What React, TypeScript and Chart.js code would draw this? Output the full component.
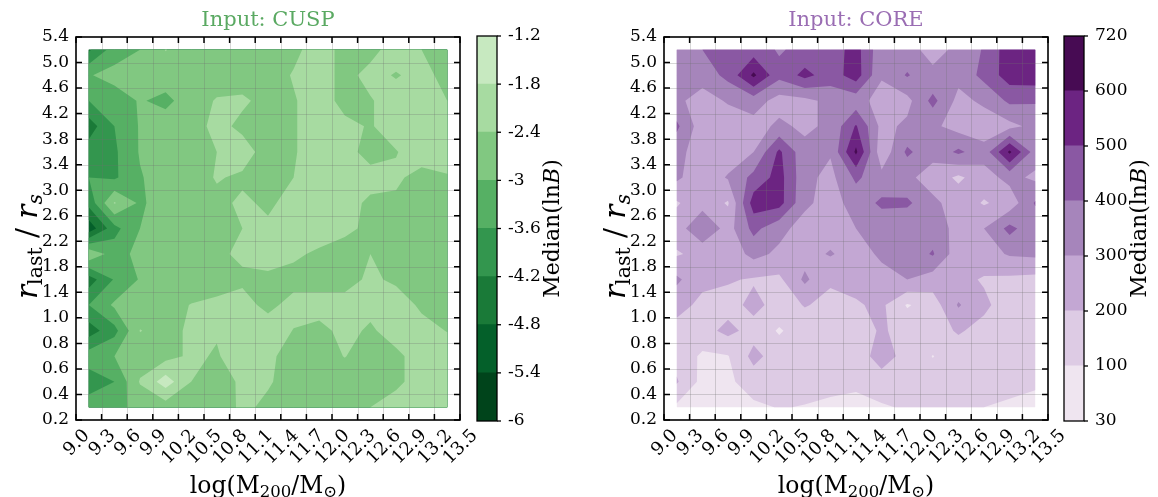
import React, { useEffect, useRef } from "react";
import { Chart, registerables } from "chart.js";
Chart.register(...registerables);

const FONT = "'DejaVu Serif', 'Liberation Serif', serif";

const xTickLabels = ["9.0","9.3","9.6","9.9","10.2","10.5","10.8","11.1","11.4","11.7","12.0","12.3","12.6","12.9","13.2","13.5"];
const yTickLabels = ["0.2","0.4","0.6","0.8","1.0","1.4","1.8","2.2","2.6","3.0","3.4","3.8","4.2","4.6","5.0","5.4"];

const cuspLevels = [-6, -5.4, -4.8, -4.2, -3.6, -3, -2.4, -1.8, -1.2];
const cuspLevelLabels = ["-6", "-5.4", "-4.8", "-4.2", "-3.6", "-3", "-2.4", "-1.8", "-1.2"];
const cuspColors = ["#00441b", "#04602a", "#1a7a38", "#33964e", "#56b064", "#81c881", "#a7dba1", "#c7e9c0"];

const coreLevels = [30, 100, 200, 300, 400, 500, 600, 720];
const coreLevelLabels = ["30", "100", "200", "300", "400", "500", "600", "720"];
const coreColors = ["#efe5f0", "#ddcbe4", "#c3a7d3", "#a685bb", "#8a58a3", "#6c2482", "#470b53"];

// rows listed from top (r_last/r_s high) to bottom, columns from low to high mass
const cuspRows: number[][] = [
  [-4.3, -3.3, -3.0, -2.38, -2.7, -2.7, -2.7, -2.7, -2.55, -2.1, -2.6, -2.6, -2.1, -2.4, -2.7],
  [-3.04, -2.8, -2.7, -2.7, -2.7, -2.7, -2.7, -2.7, -2.35, -2.1, -2.6, -2.2, -2.45, -2.2, -2.6],
  [-3.6, -3.3, -2.95, -3.15, -2.7, -2.35, -2.3, -2.6, -2.45, -2.1, -2.6, -2.45, -2.1, -2.1, -2.4],
  [-4.5, -3.6, -2.95, -2.7, -2.7, -2.2, -2.55, -2.7, -2.45, -2.1, -2.25, -2.45, -2.1, -2.1, -2.1],
  [-3.9, -3.7, -2.95, -2.7, -2.7, -2.4, -2.1, -2.7, -2.45, -2.1, -2.2, -2.6, -2.43, -2.1, -2.1],
  [-3.6, -3.7, -3.05, -2.7, -2.7, -2.35, -2.5, -2.7, -2.4, -2.1, -2.1, -2.2, -2.3, -2.6, -2.45],
  [-4.0, -2.35, -3.1, -2.7, -2.65, -2.55, -2.3, -2.5, -2.2, -2.1, -2.2, -2.5, -2.5, -2.6, -2.6],
  [-5.2, -3.8, -3.0, -2.7, -2.7, -2.6, -2.4, -2.3, -2.2, -2.1, -2.3, -2.5, -2.6, -2.6, -2.5],
  [-2.5, -3.3, -2.8, -2.7, -2.7, -2.5, -2.3, -2.2, -2.3, -2.5, -2.6, -2.4, -2.6, -2.7, -2.5],
  [-4.5, -3.55, -2.95, -2.7, -2.7, -2.6, -2.5, -2.5, -2.6, -2.7, -2.6, -2.3, -2.5, -2.7, -2.5],
  [-3.6, -2.9, -2.75, -2.6, -2.38, -2.3, -2.2, -2.55, -2.2, -2.1, -2.2, -2.2, -2.1, -2.5, -2.5],
  [-4.5, -3.8, -2.38, -2.6, -2.3, -2.35, -2.2, -2.1, -2.42, -2.6, -2.2, -2.5, -2.1, -2.2, -2.42],
  [-3.3, -3.0, -2.7, -2.6, -2.3, -2.45, -2.1, -2.3, -2.6, -2.65, -2.38, -2.7, -2.55, -2.1, -2.1],
  [-3.9, -3.6, -2.35, -1.5, -2.4, -2.8, -2.25, -2.35, -2.6, -2.6, -2.7, -2.6, -2.5, -2.2, -2.1],
  [-3.3, -3.2, -2.8, -2.7, -2.6, -2.7, -2.3, -2.5, -2.6, -2.7, -2.7, -2.4, -2.2, -2.1, -2.1],
];

const coreRows: number[][] = [
  [350, 400, 450, 450, 390, 430, 450, 540, 330, 330, 270, 320, 410, 560, 560],
  [350, 340, 430, 620, 430, 530, 450, 550, 310, 410, 320, 330, 430, 550, 560],
  [320, 260, 310, 350, 260, 270, 330, 340, 260, 270, 430, 270, 320, 420, 410],
  [420, 240, 240, 260, 320, 280, 320, 510, 270, 320, 320, 260, 240, 270, 330],
  [330, 250, 240, 300, 520, 330, 310, 620, 230, 420, 330, 420, 340, 620, 350],
  [320, 230, 310, 430, 540, 330, 270, 420, 330, 320, 260, 180, 260, 330, 280],
  [190, 260, 190, 550, 540, 320, 260, 340, 420, 420, 320, 260, 190, 240, 410],
  [250, 390, 260, 430, 330, 260, 250, 300, 330, 310, 350, 270, 300, 430, 330],
  [190, 230, 240, 330, 280, 260, 310, 250, 320, 340, 410, 240, 260, 310, 320],
  [320, 220, 210, 190, 180, 320, 210, 230, 260, 300, 250, 230, 190, 180, 170],
  [230, 180, 160, 230, 160, 205, 180, 190, 220, 90, 150, 310, 220, 150, 160],
  [170, 160, 230, 160, 90, 150, 160, 160, 210, 170, 160, 210, 170, 160, 150],
  [160, 85, 95, 230, 150, 150, 150, 140, 250, 160, 97, 150, 150, 140, 150],
  [210, 70, 80, 150, 150, 140, 130, 120, 150, 140, 140, 130, 130, 130, 110],
  [80, 60, 60, 80, 105, 95, 80, 70, 90, 110, 130, 120, 100, 85, 80],
];

type Pt = { x: number; y: number; v: number };

function lerpPt(a: Pt, b: Pt, level: number): Pt {
  const t = (level - a.v) / (b.v - a.v);
  return { x: a.x + t * (b.x - a.x), y: a.y + t * (b.y - a.y), v: level };
}

function clipAbove(poly: Pt[], level: number): Pt[] {
  const out: Pt[] = [];
  for (let k = 0; k < poly.length; k++) {
    const a = poly[k];
    const b = poly[(k + 1) % poly.length];
    const ain = a.v >= level;
    const bin = b.v >= level;
    if (ain) out.push(a);
    if (ain !== bin) out.push(lerpPt(a, b, level));
  }
  return out;
}

// region of one grid cell where value >= level, saddles resolved by the cell mean
function cellPolys(q: Pt[], level: number): Pt[][] {
  const above = q.map((p) => p.v >= level);
  const n = above.filter(Boolean).length;
  if (n === 0) return [];
  if (n === 4) return [q];
  if (n === 2 && above[0] === above[2] && above[1] === above[3]) {
    const avg = (q[0].v + q[1].v + q[2].v + q[3].v) / 4;
    if (avg < level) {
      const res: Pt[][] = [];
      for (let c = 0; c < 4; c++) {
        if (!above[c]) continue;
        const a = q[c];
        const prev = q[(c + 3) % 4];
        const next = q[(c + 1) % 4];
        res.push([lerpPt(prev, a, level), a, lerpPt(a, next, level)]);
      }
      return res;
    }
  }
  return [clipAbove(q, level)];
}

type Seg = { t: string; size: number; dy?: number; italic?: boolean };

function drawSegments(ctx: CanvasRenderingContext2D, segs: Seg[], cx: number, baseY: number) {
  const widths = segs.map((s) => {
    ctx.font = `${s.italic ? "italic " : ""}${s.size}px ${FONT}`;
    return ctx.measureText(s.t).width;
  });
  const total = widths.reduce((a, b) => a + b, 0);
  let x = cx - total / 2;
  ctx.textAlign = "left";
  ctx.textBaseline = "alphabetic";
  segs.forEach((s, k) => {
    ctx.font = `${s.italic ? "italic " : ""}${s.size}px ${FONT}`;
    ctx.fillText(s.t, x, baseY + (s.dy || 0));
    x += widths[k];
  });
}

type PanelProps = {
  rows: number[][];
  levels: number[];
  colors: string[];
  title: string;
  titleColor: string;
  left: number;
};

const PANEL_W = 500;

function Panel({ rows, levels, colors, title, titleColor, left }: PanelProps) {
  const ref = useRef<HTMLCanvasElement>(null);
  useEffect(() => {
    const grid = rows.slice().reverse();
    const nj = grid.length;
    const ni = grid[0].length;
    const points: { x: number; y: number }[] = [];
    for (let j = 0; j < nj; j++) for (let i = 0; i < ni; i++) points.push({ x: i + 0.5, y: j + 0.5 });

    const plugin = {
      id: "contourPanel",
      beforeDatasetsDraw(chart: any) {
        const ctx: CanvasRenderingContext2D = chart.ctx;
        const xs = chart.scales.x;
        const ys = chart.scales.y;
        const area = chart.chartArea;
        const P = (i: number, j: number): Pt => ({
          x: xs.getPixelForValue(i + 0.5),
          y: ys.getPixelForValue(j + 0.5),
          v: grid[j][i],
        });
        ctx.save();
        for (let k = 0; k < colors.length; k++) {
          ctx.beginPath();
          for (let j = 0; j < nj - 1; j++) {
            for (let i = 0; i < ni - 1; i++) {
              const quad = [P(i, j), P(i + 1, j), P(i + 1, j + 1), P(i, j + 1)];
              const polys = k === 0 ? [quad] : cellPolys(quad, levels[k]);
              for (const poly of polys) {
                if (poly.length < 3) continue;
                ctx.moveTo(poly[0].x, poly[0].y);
                for (let m = 1; m < poly.length; m++) ctx.lineTo(poly[m].x, poly[m].y);
                ctx.closePath();
              }
            }
          }
          ctx.fillStyle = colors[k];
          ctx.fill("nonzero");
        }
        // grid lines
        ctx.strokeStyle = "rgba(110,110,110,0.28)";
        ctx.lineWidth = 1;
        for (let t = 1; t < 15; t++) {
          const x = Math.round(xs.getPixelForValue(t)) + 0.5;
          ctx.beginPath();
          ctx.moveTo(x, area.top);
          ctx.lineTo(x, area.bottom);
          ctx.stroke();
          const y = Math.round(ys.getPixelForValue(t)) + 0.5;
          ctx.beginPath();
          ctx.moveTo(area.left, y);
          ctx.lineTo(area.right, y);
          ctx.stroke();
        }
        // frame
        ctx.strokeStyle = "#000";
        ctx.lineWidth = 1.6;
        ctx.strokeRect(area.left, area.top, area.right - area.left, area.bottom - area.top);
        // ticks (inward, all sides)
        ctx.lineWidth = 1.5;
        const tl = 6;
        for (let t = 0; t <= 15; t++) {
          const x = xs.getPixelForValue(t);
          const y = ys.getPixelForValue(t);
          ctx.beginPath();
          ctx.moveTo(x, area.bottom);
          ctx.lineTo(x, area.bottom - tl);
          ctx.moveTo(x, area.top);
          ctx.lineTo(x, area.top + tl);
          ctx.moveTo(area.left, y);
          ctx.lineTo(area.left + tl, y);
          ctx.moveTo(area.right, y);
          ctx.lineTo(area.right - tl, y);
          ctx.stroke();
        }
        // x tick labels rotated 45 degrees, centred under the tick
        ctx.fillStyle = "#000";
        ctx.font = `18px ${FONT}`;
        ctx.textAlign = "center";
        ctx.textBaseline = "middle";
        for (let t = 0; t <= 15; t++) {
          const label = xTickLabels[t];
          const w = ctx.measureText(label).width;
          const x = xs.getPixelForValue(t);
          const yc = area.bottom + 8 + (w + 12) * 0.3536;
          ctx.save();
          ctx.translate(x, yc);
          ctx.rotate(-Math.PI / 4);
          ctx.fillText(label, 0, 1);
          ctx.restore();
        }
        // title
        ctx.fillStyle = titleColor;
        ctx.font = `21px ${FONT}`;
        ctx.textAlign = "center";
        ctx.textBaseline = "alphabetic";
        ctx.fillText(title, (area.left + area.right) / 2, 26);
        // x axis label
        ctx.fillStyle = "#000";
        drawSegments(
          ctx,
          [
            { t: "log(M", size: 23.5 },
            { t: "200", size: 16.5, dy: 4 },
            { t: "/M", size: 23.5 },
            { t: "\u2299", size: 16.5, dy: 4 },
            { t: ")", size: 23.5 },
          ],
          (area.left + area.right) / 2,
          493
        );
        // y axis label (rotated)
        ctx.save();
        ctx.translate(area.left - 39, (area.top + area.bottom) / 2 + 18);
        ctx.rotate(-Math.PI / 2);
        drawSegments(
          ctx,
          [
            { t: "r", size: 29.5, italic: true },
            { t: "last", size: 20.5, dy: 5 },
            { t: " / ", size: 29.5 },
            { t: "r", size: 29.5, italic: true },
            { t: "s", size: 20.5, dy: 5, italic: true },
          ],
          0,
          0
        );
        ctx.restore();
        ctx.restore();
      },
    };

    const chart = new Chart(ref.current as HTMLCanvasElement, {
      type: "scatter",
      data: { datasets: [{ data: points, pointRadius: 0, showLine: false }] },
      options: {
        animation: false,
        responsive: false,
        maintainAspectRatio: false,
        devicePixelRatio: 1,
        layout: { padding: { top: 37, right: PANEL_W - 460, left: 0, bottom: 0 } },
        plugins: { legend: { display: false }, tooltip: { enabled: false }, title: { display: false } },
        scales: {
          x: {
            type: "linear",
            min: 0,
            max: 15,
            ticks: { display: false, stepSize: 1 },
            grid: { display: false, drawTicks: false },
            border: { display: false },
            afterFit: (s: any) => {
              s.height = 77;
            },
          },
          y: {
            type: "linear",
            min: 0,
            max: 15,
            ticks: {
              stepSize: 1,
              autoSkip: false,
              padding: 7,
              color: "#000",
              font: { family: FONT, size: 17 },
              callback: (v: any) => yTickLabels[Math.round(Number(v))] ?? "",
            },
            grid: { display: false, drawTicks: false },
            border: { display: false },
            afterFit: (s: any) => {
              s.width = 76;
            },
          },
        },
      } as any,
      plugins: [plugin as any],
    });
    return () => chart.destroy();
  }, []);
  return (
    <canvas
      ref={ref}
      width={PANEL_W}
      height={497}
      style={{ position: "absolute", left, top: 0, width: PANEL_W, height: 497 }}
    />
  );
}

type BarProps = {
  colors: string[];
  labels: string[];
  left: number;
  width: number;
  padLeft: number;
};

function ColorBar({ colors, labels, left, width, padLeft }: BarProps) {
  const ref = useRef<HTMLCanvasElement>(null);
  useEffect(() => {
    const nb = colors.length;
    const plugin = {
      id: "cbarFrame",
      afterDraw(chart: any) {
        const ctx: CanvasRenderingContext2D = chart.ctx;
        const area = chart.chartArea;
        const ys = chart.scales.y;
        ctx.save();
        ctx.strokeStyle = "#000";
        ctx.lineWidth = 1.3;
        ctx.strokeRect(area.left, area.top, area.right - area.left, area.bottom - area.top);
        ctx.lineWidth = 1.3;
        for (let k = 0; k <= nb; k++) {
          const y = ys.getPixelForValue(k);
          ctx.beginPath();
          ctx.moveTo(area.right, y);
          ctx.lineTo(area.right + 4, y);
          ctx.stroke();
        }
        ctx.fillStyle = "#000";
        ctx.translate(area.right + 55, (area.top + area.bottom) / 2);
        ctx.rotate(-Math.PI / 2);
        drawSegments(
          ctx,
          [
            { t: "Median(ln", size: 22 },
            { t: "B", size: 22, italic: true },
            { t: ")", size: 22 },
          ],
          0,
          7
        );
        ctx.restore();
      },
    };
    const chart = new Chart(ref.current as HTMLCanvasElement, {
      type: "bar",
      data: {
        labels: ["band"],
        datasets: colors.map((c, k) => ({
          data: [[k, k + 1]],
          backgroundColor: c,
          borderWidth: 0,
          grouped: false,
          barPercentage: 1,
          categoryPercentage: 1,
          inflateAmount: 0.5,
        })),
      },
      options: {
        animation: false,
        responsive: false,
        maintainAspectRatio: false,
        devicePixelRatio: 1,
        layout: { padding: { top: 36, bottom: 76, left: padLeft, right: 0 } },
        plugins: { legend: { display: false }, tooltip: { enabled: false } },
        scales: {
          x: { display: false },
          y: {
            position: "right",
            min: 0,
            max: nb,
            ticks: {
              stepSize: 1,
              autoSkip: false,
              padding: 11,
              color: "#000",
              font: { family: FONT, size: 17 },
              callback: (v: any) => labels[Math.round(Number(v))] ?? "",
            },
            grid: { display: false, drawTicks: false },
            border: { display: false },
            afterFit: (s: any) => {
              s.width = width - padLeft - 20;
            },
          },
        },
      } as any,
      plugins: [plugin as any],
    });
    return () => chart.destroy();
  }, []);
  return (
    <canvas
      ref={ref}
      width={width}
      height={497}
      style={{ position: "absolute", left, top: 0, width, height: 497 }}
    />
  );
}

export default function App() {
  return (
    <div
      style={{
        position: "fixed",
        left: 0,
        top: 0,
        width: 1158,
        height: 497,
        background: "#fff",
        overflow: "hidden",
      }}
    >
      <Panel rows={cuspRows} levels={cuspLevels} colors={cuspColors} title="Input: CUSP" titleColor="#5aa962" left={0} />
      <ColorBar colors={cuspColors} labels={cuspLevelLabels} left={470} width={118} padLeft={7} />
      <Panel rows={coreRows} levels={coreLevels} colors={coreColors} title="Input: CORE" titleColor="#9a6db3" left={588} />
      <ColorBar colors={coreColors} labels={coreLevelLabels} left={1058} width={100} padLeft={6} />
    </div>
  );
}
